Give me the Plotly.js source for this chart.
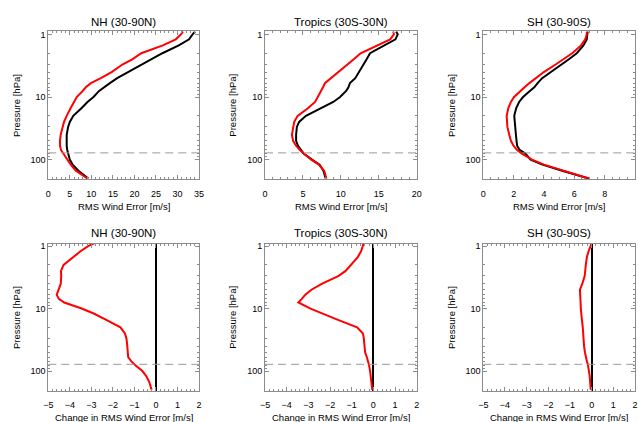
<!DOCTYPE html>
<html>
<head>
<meta charset="utf-8">
<script src="https://cdn.plot.ly/plotly-3.0.1.min.js"></script>
<style>
  html, body { margin: 0; padding: 0; background: #ffffff; }
  #chart { width: 638px; height: 422px; }
</style>
</head>
<body>
<div id="chart"></div>
<script>
// Pressure levels [hPa] shared by every profile
const levels = [0.9, 1, 1.2, 1.5, 2, 2.5, 3, 4, 5, 6, 7, 8, 10, 12, 15, 20, 25, 30, 40, 50, 60, 70, 80, 100, 120, 150, 200];

const regionNames = ['NH (30-90N)', 'Tropics (30S-30N)', 'SH (30-90S)'];

// RMS wind error [m/s] – control run (black)
const rmsControlNH = [34.1, 33.5, 32.7, 30.3, 26.5, 24.0, 21.7, 18.6, 16.0, 14.3, 12.8, 11.8, 10.5, 9.1, 7.75, 5.8, 5.0, 4.6, 4.27, 4.25, 4.27, 4.4, 4.65, 5.0, 5.66, 7.0, 9.3];
const rmsControlTropics = [17.3, 17.5, 17.2, 15.7, 13.85, 13.4, 13.0, 12.4, 11.9, 11.2, 11.0, 10.7, 9.9, 9.0, 7.5, 5.4, 4.5, 4.2, 4.1, 4.1, 4.35, 4.7, 5.1, 6.2, 7.2, 7.7, 8.0];
const rmsControlSH = [6.88, 6.86, 6.82, 6.6, 6.16, 5.64, 5.17, 4.37, 3.88, 3.58, 3.36, 3.07, 2.62, 2.36, 2.17, 2.04, 2.06, 2.10, 2.15, 2.19, 2.23, 2.40, 2.77, 3.12, 3.9, 5.2, 6.95];

// RMS wind error [m/s] – experiment (red)
const rmsExperimentNH = [31.3, 30.8, 29.6, 26.6, 21.6, 19.5, 17.3, 14.7, 12.2, 9.9, 8.7, 8.0, 6.6, 5.9, 5.2, 4.27, 3.65, 3.34, 2.87, 2.72, 2.72, 2.95, 3.5, 4.27, 5.2, 6.4, 9.1];
const rmsExperimentTropics = [16.9, 17.0, 16.5, 14.7, 12.6, 11.7, 10.9, 9.7, 8.7, 7.9, 7.65, 7.4, 7.0, 6.6, 5.7, 4.3, 3.85, 3.7, 3.55, 3.7, 4.1, 4.6, 5.1, 6.1, 7.1, 7.8, 8.1];
const rmsExperimentSH = [6.82, 6.82, 6.72, 6.44, 5.86, 5.30, 4.79, 3.99, 3.43, 3.04, 2.72, 2.46, 2.03, 1.82, 1.65, 1.54, 1.56, 1.59, 1.71, 1.82, 1.99, 2.23, 2.54, 3.21, 4.0, 5.3, 6.95];

// Change in RMS wind error [m/s], experiment minus control
const changeNH = [-2.85, -3.15, -3.49, -3.85, -4.29, -4.41, -4.40, -4.42, -4.52, -4.61, -4.51, -4.26, -3.45, -2.89, -2.33, -1.65, -1.44, -1.37, -1.33, -1.32, -1.29, -1.14, -0.97, -0.63, -0.45, -0.31, -0.20];
const changeTropics = [-0.45, -0.48, -0.56, -0.72, -1.05, -1.28, -1.60, -2.36, -2.86, -3.14, -3.30, -3.46, -2.90, -2.36, -1.66, -0.75, -0.48, -0.44, -0.40, -0.38, -0.30, -0.23, -0.20, -0.15, -0.12, -0.09, -0.05];
const changeSH = [-0.02, -0.05, -0.14, -0.22, -0.27, -0.29, -0.32, -0.43, -0.54, -0.53, -0.51, -0.51, -0.50, -0.49, -0.45, -0.41, -0.40, -0.39, -0.35, -0.31, -0.27, -0.22, -0.17, -0.12, -0.09, -0.07, -0.04];

// Dashed reference pressure level [hPa]
const referenceLevel = [78];

// Axis extents and tick steps
const rmsRanges = [[0, 35], [0, 20], [0, 10]];
const rmsTickSteps = [5, 5, 2];
const rmsMinorSteps = [1, 1, 0.5];
const changeRange = [-5, 2];

// ---- page geometry (pixels) ----
const W = 638, H = 422;
const FONT = '"Liberation Sans", Arial, Helvetica, sans-serif';
const FRAME = '#8c8c8c';
const columns = [[48.3, 199], [265, 416.7], [483.3, 635]];
const rows = [[31.3, 179], [244, 390.5]];
const yRangeRows = [[2.309, -0.049], [2.311, -0.033]];

const px = v => v / W;
const py = v => 1 - v / H;

const rmsControl = [rmsControlNH, rmsControlTropics, rmsControlSH];
const rmsExperiment = [rmsExperimentNH, rmsExperimentTropics, rmsExperimentSH];
const changes = [changeNH, changeTropics, changeSH];

const traces = [];
const layout = {
  width: W, height: H,
  margin: {l: 0, r: 0, t: 0, b: 0},
  paper_bgcolor: '#ffffff', plot_bgcolor: '#ffffff',
  showlegend: false,
  font: {family: FONT, size: 9, color: '#000'},
  shapes: [], annotations: []
};

function baseAxis(extra) {
  return Object.assign({
    showline: true, linecolor: FRAME, linewidth: 1, mirror: 'allticks',
    ticks: 'inside', ticklen: 4, tickwidth: 1, tickcolor: FRAME,
    showgrid: false, zeroline: false, fixedrange: true,
    tickfont: {family: FONT, size: 9, color: '#000'}
  }, extra);
}

function addText(x, y, text, size, angle) {
  layout.annotations.push({
    xref: 'paper', yref: 'paper', x: px(x), y: py(y), text: text,
    showarrow: false, xanchor: 'center', yanchor: 'middle',
    textangle: angle || 0,
    font: {family: FONT, size: size, color: '#000'}
  });
}

for (let r = 0; r < 2; r++) {
  for (let c = 0; c < 3; c++) {
    const n = r * 3 + c + 1;
    const xa = 'x' + (n === 1 ? '' : n), ya = 'y' + (n === 1 ? '' : n);
    const xKey = 'xaxis' + (n === 1 ? '' : n), yKey = 'yaxis' + (n === 1 ? '' : n);
    const [x0, x1] = columns[c];
    const [y0, y1] = rows[r];

    if (r === 0) {
      layout[xKey] = baseAxis({
        domain: [px(x0), px(x1)], anchor: ya, range: rmsRanges[c],
        dtick: rmsTickSteps[c], tick0: 0, ticklabelstandoff: 6,
        minor: {ticks: 'inside', ticklen: 2, tickcolor: FRAME, dtick: rmsMinorSteps[c], showgrid: false}
      });
      traces.push({x: rmsControl[c], y: levels, xaxis: xa, yaxis: ya, type: 'scatter', mode: 'lines',
                   line: {color: '#000000', width: 2}, hoverinfo: 'skip'});
      traces.push({x: rmsExperiment[c], y: levels, xaxis: xa, yaxis: ya, type: 'scatter', mode: 'lines',
                   line: {color: '#ff0000', width: 2}, hoverinfo: 'skip'});
    } else {
      layout[xKey] = baseAxis({
        domain: [px(x0), px(x1)], anchor: ya, range: changeRange,
        dtick: 1, tick0: 0, ticklabelstandoff: 6,
        zeroline: true, zerolinecolor: '#000000', zerolinewidth: 2,
        minor: {ticks: 'inside', ticklen: 2, tickcolor: FRAME, dtick: 0.2, showgrid: false}
      });
      traces.push({x: changes[c], y: levels, xaxis: xa, yaxis: ya, type: 'scatter', mode: 'lines',
                   line: {color: '#ff0000', width: 2}, hoverinfo: 'skip'});
    }

    layout[yKey] = baseAxis({
      domain: [py(y1), py(y0)], anchor: xa, type: 'log',
      range: yRangeRows[r], dtick: 1,
      minor: {ticks: 'inside', ticklen: 2, tickcolor: FRAME, dtick: 'D1', showgrid: false}
    });

    layout.shapes.push({
      type: 'line', xref: xa + ' domain', x0: 0, x1: 1, yref: ya,
      y0: referenceLevel[0], y1: referenceLevel[0],
      line: {color: '#9a9a9a', width: 1, dash: '8px,5px'}
    });

    const cx = (x0 + x1) / 2;
    addText(cx, r === 0 ? 21.7 : 233.3, regionNames[c], 11.5);
    addText(cx, r === 0 ? 206 : 417, r === 0 ? 'RMS Wind Error [m/s]' : 'Change in RMS Wind Error [m/s]', 9.5);
    addText(x0 - 32.5, (y0 + y1) / 2, 'Pressure [hPa]', 9.5, -90);
  }
}

Plotly.newPlot('chart', traces, layout, {staticPlot: true, displayModeBar: false});
</script>
</body>
</html>
